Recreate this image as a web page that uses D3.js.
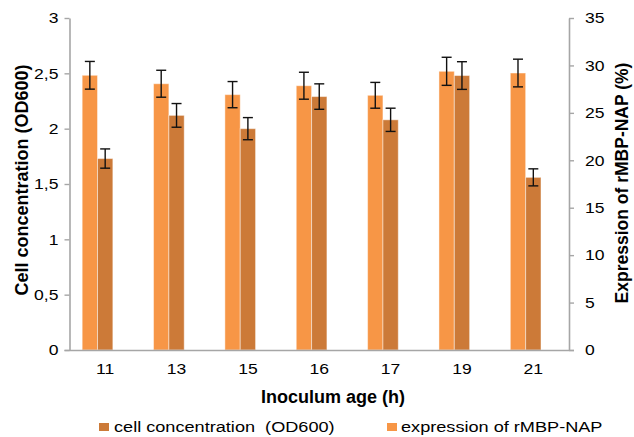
<!DOCTYPE html>
<html>
<head>
<meta charset="utf-8">
<script src="https://cdn.jsdelivr.net/npm/d3@7"></script>
<style>
  html, body { margin: 0; padding: 0; background: #fff; }
  svg { display: block; }
  text { font-family: "Liberation Sans", Arial, Helvetica, sans-serif; fill: #000; }
</style>
</head>
<body>
<svg id="chart" width="634" height="437"></svg>
<script>
// ---- data ----
const categories = ["11", "13", "15", "16", "17", "19", "21"];
const cellConc = [1.73, 2.12, 2.00, 2.29, 2.08, 2.48, 1.56];          // OD600, left axis
const cellErr  = [0.087, 0.107, 0.10, 0.115, 0.105, 0.125, 0.077];
const expr     = [28.96, 28.07, 26.92, 27.86, 26.85, 29.38, 29.20];   // %, right axis
const exprErr  = [1.46, 1.42, 1.38, 1.42, 1.36, 1.48, 1.46];
const leftTicks  = [0, 0.5, 1, 1.5, 2, 2.5, 3];
const rightTicks = [0, 5, 10, 15, 20, 25, 30, 35];
const seriesNames = ["expression of rMBP-NAP", "cell concentration  (OD600)", ""];

// ---- layout ----
const svg = d3.select("#chart");
const X0 = 69.5, X1 = 569, Y0 = 350, Y1 = 18;
const AXIS_COLOR = "#a6a6a6";
const LIGHT = "#f79646", DARK = "#cc7a38";
const SX = 1.17; // horizontal stretch of regular text

const x = d3.scaleBand().domain(categories).range([X0, X1]).paddingInner(0).paddingOuter(0);
const xs = d3.scaleBand().domain([0, 1, 2]).range([0, x.bandwidth()]).paddingInner(0).paddingOuter(0.827);
const yL = d3.scaleLinear().domain([0, 3]).range([Y0, Y1]);
const yR = d3.scaleLinear().domain([0, 35]).range([Y0, Y1]);

function stretch(sel, sx) {
  sel.each(function () {
    const t = d3.select(this);
    const tx = +t.attr("x") || 0, ty = +t.attr("y") || 0;
    t.attr("x", 0).attr("y", 0).attr("transform", `translate(${tx},${ty}) scale(${sx},1)`);
  });
}

// ---- bars ----
const data = categories.map((c, i) => ({c, cell: cellConc[i], ce: cellErr[i], ex: expr[i], ee: exprErr[i]}));
const g = svg.append("g");

g.selectAll("rect.expr").data(data).enter().append("rect")
  .attr("class", "expr")
  .attr("x", d => x(d.c) + xs(0))
  .attr("y", d => yR(d.ex))
  .attr("width", xs.bandwidth())
  .attr("height", d => Y0 - yR(d.ex))
  .attr("fill", LIGHT)
  .attr("stroke", "rgba(255,255,255,0.45)").attr("stroke-width", 1);

g.selectAll("rect.cell").data(data).enter().append("rect")
  .attr("class", "cell")
  .attr("x", d => x(d.c) + xs(1))
  .attr("y", d => yL(d.cell))
  .attr("width", xs.bandwidth())
  .attr("height", d => Y0 - yL(d.cell))
  .attr("fill", DARK)
  .attr("stroke", "rgba(255,255,255,0.45)").attr("stroke-width", 1);

// ---- error bars ----
function errBars(cls, slot, scale, val, err) {
  const cx = d => x(d.c) + xs(slot) + xs.bandwidth() / 2;
  const eg = g.selectAll("g." + cls).data(data).enter().append("g").attr("class", cls)
    .attr("stroke", "#111").attr("stroke-width", 1.4);
  eg.append("line").attr("x1", cx).attr("x2", cx)
    .attr("y1", d => scale(val(d) + err(d))).attr("y2", d => scale(val(d) - err(d)));
  eg.append("line").attr("x1", d => cx(d) - 5).attr("x2", d => cx(d) + 5)
    .attr("y1", d => scale(val(d) + err(d))).attr("y2", d => scale(val(d) + err(d)));
  eg.append("line").attr("x1", d => cx(d) - 5).attr("x2", d => cx(d) + 5)
    .attr("y1", d => scale(val(d) - err(d))).attr("y2", d => scale(val(d) - err(d)));
}
errBars("eexpr", 0, yR, d => d.ex, d => d.ee);
errBars("ecell", 1, yL, d => d.cell, d => d.ce);

// ---- axes ----
const axL = svg.append("g").attr("transform", `translate(${X0},0)`)
  .call(d3.axisLeft(yL).tickValues(leftTicks).tickSize(5).tickSizeOuter(0).tickPadding(6)
    .tickFormat(d => String(d).replace(".", ",")));
const axR = svg.append("g").attr("transform", `translate(${X1},0)`)
  .call(d3.axisRight(yR).tickValues(rightTicks).tickSize(5).tickSizeOuter(0).tickPadding(11));
const axB = svg.append("g").attr("transform", `translate(0,${Y0})`)
  .call(d3.axisBottom(x).tickSize(0).tickSizeOuter(0).tickPadding(13));

[axL, axR, axB].forEach(a => {
  a.selectAll(".domain").attr("stroke", AXIS_COLOR).attr("stroke-width", 1.6);
  a.selectAll(".tick line").attr("stroke", AXIS_COLOR).attr("stroke-width", 1.4);
  a.selectAll("text").attr("font-size", 15).attr("fill", "#111")
    .style("font-family", '"Liberation Sans", Arial, sans-serif');
  stretch(a.selectAll("text"), SX);
});
axB.select(".domain").attr("d", `M${X0 - 5},0.5H${X1 + 5}`);

// ---- axis titles ----
svg.append("text").attr("transform", "translate(333,403)")
  .attr("text-anchor", "middle").attr("font-size", 18).attr("font-weight", "bold")
  .text("Inoculum age (h)");
svg.append("text").attr("transform", "translate(28,180) rotate(-90)")
  .attr("text-anchor", "middle").attr("font-size", 18).attr("font-weight", "bold")
  .text("Cell concentration (OD600)");
svg.append("text").attr("transform", "translate(628,183) rotate(-90)")
  .attr("text-anchor", "middle").attr("font-size", 17.5).attr("font-weight", "bold")
  .text("Expression of rMBP-NAP (%)");

// ---- legend ----
const legendItems = [
  {name: seriesNames[1], color: DARK, sx: 99, tx: 114},
  {name: seriesNames[0], color: LIGHT, sx: 387, tx: 401}
];
const lg = svg.append("g");
legendItems.forEach(it => {
  lg.append("rect").attr("x", it.sx).attr("y", 423).attr("width", 10).attr("height", 8).attr("fill", it.color);
  const t = lg.append("text").attr("x", it.tx).attr("y", 431.5).attr("font-size", 15.5)
    .attr("fill", "#111").style("white-space", "pre").text(it.name);
  stretch(t, SX);
});
</script>
</body>
</html>
